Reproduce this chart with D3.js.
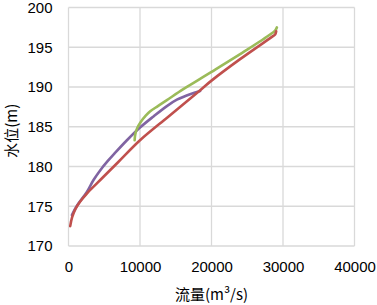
<!DOCTYPE html>
<html>
<head>
<meta charset="utf-8">
<script src="https://cdn.jsdelivr.net/npm/d3@7"></script>
<style>
  body { margin: 0; background: #fff; }
  svg { display: block; }
</style>
</head>
<body>
<svg id="chart"></svg>
<script>
// curve points: [flow m3/s, stage m]
const redCurve = [[240, 172.5], [500, 173.6], [1000, 174.7], [1640, 175.6], [2570, 176.6], [4000, 177.9],
    [5000, 178.8], [7000, 180.6], [10000, 183.3], [14000, 186.3], [18420, 189.6], [20000, 190.8],
    [24000, 193.5], [28450, 196.3], [28900, 196.6], [29050, 197.0]];
const greenCurve = [[9250, 183.3], [9330, 184.0], [9600, 184.8], [10100, 185.6], [10800, 186.4], [11430, 186.95],
    [12500, 187.6], [13760, 188.35], [16000, 189.7], [18180, 190.9], [20000, 191.9], [25000, 194.7],
    [28200, 196.6], [28900, 197.1], [29150, 197.5]];
const purpleCurve = [[475, 173.9], [1200, 175.1], [2570, 176.8], [3500, 178.3], [4500, 179.6], [5500, 180.7],
    [6500, 181.7], [8170, 183.3], [10000, 184.9], [11890, 186.3], [13760, 187.6], [15160, 188.4],
    [17000, 189.1], [18420, 189.5]];
const xTicks = [0, 10000, 20000, 30000, 40000];
const yTicks = [170, 175, 180, 185, 190, 195, 200];

const width = 377, height = 305;
const marginTop = 7.5, marginRight = 22.5, marginBottom = 59, marginLeft = 68.5;

const svg = d3.select("#chart")
    .attr("width", width)
    .attr("height", height)
    .attr("style", "font-family: 'Liberation Sans', Arial, sans-serif;");

const x = d3.scaleLinear().domain([0, 40000]).range([marginLeft, width - marginRight]);
const y = d3.scaleLinear().domain([170, 200]).range([height - marginBottom, marginTop]);

// gridlines
svg.append("g")
    .attr("stroke", "#d9d9d9")
    .attr("stroke-width", 1.3)
    .call(g => g.selectAll(".v").data(xTicks).join("line")
        .attr("x1", d => x(d)).attr("x2", d => x(d))
        .attr("y1", y(170)).attr("y2", y(200)))
    .call(g => g.selectAll(".h").data(yTicks).join("line")
        .attr("x1", x(0)).attr("x2", x(40000))
        .attr("y1", d => y(d)).attr("y2", d => y(d)));

// x axis labels
svg.append("g")
    .attr("transform", `translate(0,${y(170)})`)
    .call(d3.axisBottom(x).tickValues(xTicks).tickSize(0).tickPadding(15).tickFormat(d3.format("d")))
    .call(g => g.select(".domain").remove())
    .call(g => g.selectAll("text").attr("font-size", 15).attr("fill", "#000")
        .attr("font-family", "'Liberation Sans', Arial, sans-serif"));

// y axis labels
svg.append("g")
    .attr("transform", `translate(${x(0)},0)`)
    .call(d3.axisLeft(y).tickValues(yTicks).tickSize(0).tickPadding(16).tickFormat(d3.format("d")))
    .call(g => g.select(".domain").remove())
    .call(g => g.selectAll("text").attr("font-size", 15).attr("fill", "#000")
        .attr("font-family", "'Liberation Sans', Arial, sans-serif"));

const line = d3.line()
    .x(d => x(d[0]))
    .y(d => y(d[1]))
    .curve(d3.curveCatmullRom.alpha(0.5));

const series = [
    { data: purpleCurve, color: "#8064a2" },
    { data: greenCurve, color: "#9bbb59" },
    { data: redCurve, color: "#c0504d" }
];

svg.append("g")
    .attr("fill", "none")
    .attr("stroke-width", 2.6)
    .attr("stroke-linecap", "round")
    .selectAll("path")
    .data(series)
    .join("path")
    .attr("stroke", d => d.color)
    .attr("d", d => line(d.data));

// axis titles
svg.append("text")
    .attr("x", (x(0) + x(40000)) / 2)
    .attr("y", 300)
    .attr("text-anchor", "middle")
    .attr("font-size", 15)
    .attr("font-family", "'Noto Sans CJK SC', sans-serif")
    .text("流量(m³/s)");

svg.append("text")
    .attr("transform", `translate(17,${(y(170) + y(200)) / 2 + 4}) rotate(-90)`)
    .attr("text-anchor", "middle")
    .attr("font-size", 15)
    .attr("font-family", "'Noto Sans CJK SC', sans-serif")
    .text("水位(m)");
</script>
</body>
</html>
